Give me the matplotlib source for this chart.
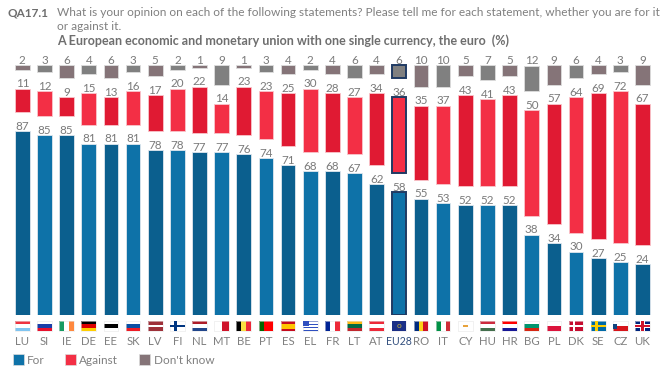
import matplotlib
matplotlib.use("Agg")
import matplotlib.pyplot as plt
from matplotlib.patches import Rectangle

plt.rcParams['font.family'] = ['Lato', 'DejaVu Sans']

countries = ["LU", "SI", "IE", "DE", "EE", "SK", "LV", "FI", "NL", "MT", "BE", "PT", "ES", "EL", "FR",
             "LT", "AT", "EU28", "RO", "IT", "CY", "HU", "HR", "BG", "PL", "DK", "SE", "CZ", "UK"]
for_vals = [87, 85, 85, 81, 81, 81, 78, 78, 77, 77, 76, 74, 71, 68, 68,
            67, 62, 58, 55, 53, 52, 52, 52, 38, 34, 30, 27, 25, 24]
against_vals = [11, 12, 9, 15, 13, 16, 17, 20, 22, 14, 23, 23, 25, 30, 28,
                27, 34, 36, 35, 37, 43, 41, 43, 50, 57, 64, 69, 72, 67]
dk_vals = [2, 3, 6, 4, 6, 3, 5, 2, 1, 9, 1, 3, 4, 2, 4,
           6, 4, 6, 10, 10, 5, 7, 5, 12, 9, 6, 4, 3, 9]

# flag stripes: direction, colours
flags = {
    "LU": ("h", ["#ef3340", "#ffffff", "#7fc4f0"]), "SI": ("h", ["#ffffff", "#1a3fa8", "#e8112d"]),
    "IE": ("v", ["#169b62", "#ffffff", "#ff883e"]), "DE": ("h", ["#000000", "#dd0000", "#ffce00"]),
    "EE": ("h", ["#ffffff", "#000000", "#ffffff"]), "SK": ("h", ["#ffffff", "#0b4ea2", "#ee1c25"]),
    "LV": ("h", ["#9e3039", "#9e3039", "#ffffff", "#9e3039", "#9e3039"]), "FI": ("h", ["#ffffff"]),
    "NL": ("h", ["#ae1c28", "#ffffff", "#21468b"]), "MT": ("v", ["#ffffff", "#cf142b"]),
    "BE": ("v", ["#000000", "#fae042", "#ed2939"]), "PT": ("v", ["#006600", "#ff0000", "#ff0000"]),
    "ES": ("h", ["#c60b1e", "#ffc400", "#ffc400", "#c60b1e"]),
    "EL": ("h", ["#2f4fc0", "#ffffff", "#2f4fc0", "#ffffff", "#2f4fc0", "#ffffff", "#2f4fc0"]),
    "FR": ("v", ["#002395", "#ffffff", "#ed2939"]), "LT": ("h", ["#fdb913", "#006a44", "#c1272d"]),
    "AT": ("h", ["#ed2939", "#ffffff", "#ed2939"]), "EU28": ("h", ["#003399"]),
    "RO": ("v", ["#002b7f", "#fcd116", "#ce1126"]), "IT": ("v", ["#009246", "#ffffff", "#ce2b37"]),
    "CY": ("h", ["#ffffff"]), "HU": ("h", ["#cd2a3e", "#ffffff", "#436f4d"]),
    "HR": ("h", ["#ff0000", "#ffffff", "#171796"]), "BG": ("h", ["#ffffff", "#00966e", "#d62612"]),
    "PL": ("h", ["#ffffff", "#dc143c"]), "DK": ("h", ["#c60c30"]), "SE": ("h", ["#006aa7"]),
    "CZ": ("h", ["#ffffff", "#d7141a"]), "UK": ("h", ["#00247d"]),
}
crosses = {"FI": "#003580", "DK": "#ffffff", "SE": "#fecc00", "UK": "#cf142b"}

W, H = 660, 376
base = 315.0
px_per_unit = 2.115
gap = 19 / px_per_unit
bar_w = 0.66
step = (642.5 - 22.3) / 28

fig = plt.figure(figsize=(W / 100, H / 100), dpi=100)
ax = fig.add_axes([0, (H - base) / H, 1, base / H])
ax.set_xlim(-22.3 / step, (W - 22.3) / step)
ax.set_ylim(0, base / px_per_unit)
for s in ax.spines.values():
    s.set_visible(False)
ax.set_yticks([])
ax.set_xticks(range(len(countries)))
ax.set_xticklabels(countries, fontsize=8.2, color="#808080")
ax.tick_params(axis="x", length=0, pad=15)
eu_label = ax.get_xticklabels()[countries.index("EU28")]
eu_label.set_color("#33507f")
eu_label.set_fontsize(7.6)

blues = ["#0b5f8e", "#0e72a8"]
reds = ["#e01a33", "#f32f45"]
greys = ["#857478", "#808080"]
txt = "#7a7a7a"
eu = countries.index("EU28")

for i in range(len(countries)):
    edge = "#1f3a63" if i == eu else "#dfe7ee"
    lw = 1.4 if i == eu else 0.6
    against_bottom = for_vals[i] + gap
    dk_bottom = against_bottom + against_vals[i] + gap
    ec_r = "#1f3a63" if i == eu else "#f9c5cb"
    ec_g = "#1f3a63" if i == eu else "#dddddd"
    ax.bar(i, for_vals[i], bar_w, color=blues[i % 2], edgecolor=edge, linewidth=lw)
    ax.bar(i, against_vals[i], bar_w, bottom=against_bottom, color=reds[i % 2], edgecolor=ec_r, linewidth=lw)
    ax.bar(i, dk_vals[i], bar_w, bottom=dk_bottom, color=greys[i % 2], edgecolor=ec_g, linewidth=lw)
    for top, v in [(for_vals[i], for_vals[i]), (against_bottom + against_vals[i], against_vals[i]),
                   (dk_bottom + dk_vals[i], dk_vals[i])]:
        ax.annotate(str(v), (i, top), xytext=(0, -0.5), textcoords="offset points", ha="center", va="bottom",
                    fontsize=8.4, color=txt, annotation_clip=False)

# flags, below the axis
tr = ax.get_xaxis_transform()
fl_top = -6 / base
fl_h = 10 / base


def flag_rect(x, y, w, h, c):
    ax.add_patch(Rectangle((x, y), w, h, facecolor=c, edgecolor="none", transform=tr, clip_on=False))


for i, c in enumerate(countries):
    x0 = i - bar_w / 2
    kind, cols = flags[c]
    n = len(cols)
    for j, col in enumerate(cols):
        if kind == "h":
            flag_rect(x0, fl_top - fl_h * (j + 1) / n, bar_w, fl_h / n, col)
        else:
            flag_rect(x0 + bar_w * j / n, fl_top - fl_h, bar_w / n, fl_h, col)
    ax.add_patch(Rectangle((x0, fl_top - fl_h), bar_w, fl_h, facecolor="none", edgecolor="#e6e6e6",
                           linewidth=0.4, transform=tr, clip_on=False))
    if c in crosses:
        col = crosses[c]
        if c == "UK":
            flag_rect(x0, fl_top - fl_h * 0.68, bar_w, fl_h * 0.36, "#ffffff")
            flag_rect(x0 + bar_w * 0.36, fl_top - fl_h, bar_w * 0.28, fl_h, "#ffffff")
            flag_rect(x0, fl_top - fl_h * 0.6, bar_w, fl_h * 0.2, col)
            flag_rect(x0 + bar_w * 0.42, fl_top - fl_h, bar_w * 0.16, fl_h, col)
        else:
            flag_rect(x0, fl_top - fl_h * 0.62, bar_w, fl_h * 0.24, col)
            flag_rect(x0 + bar_w * 0.3, fl_top - fl_h, bar_w * 0.16, fl_h, col)
    if c == "EU28":
        flag_rect(x0, fl_top - fl_h, bar_w, fl_h, "#1b2f86")
        ax.text(i, fl_top - fl_h / 2, "o", color="#c9b437", fontsize=6, ha="center", va="center",
                transform=tr, clip_on=False)
    if c == "CY":
        flag_rect(i - 0.12, fl_top - fl_h * 0.6, 0.24, fl_h * 0.25, "#e8a33c")
    if c == "CZ":
        flag_rect(x0, fl_top - fl_h * 0.75, bar_w * 0.25, fl_h * 0.5, "#11457e")
    if c == "EL":
        flag_rect(x0, fl_top - fl_h * 0.45, bar_w * 0.4, fl_h * 0.45, "#2f4fc0")


def put(x, y, s, **kw):
    fig.text(x / W, 1 - y / H, s, va="center", **kw)


put(8, 13, "QA17.1", fontsize=8.5, fontweight="bold", color="#6e6e6e")
put(57, 13, "What is your opinion on each of the following statements? Please tell me for each statement, whether you are for it",
    fontsize=8.6, color="#808080")
put(57, 27, "or against it.", fontsize=8.6, color="#808080")
put(57, 41, "A European economic and monetary union with one single currency, the euro  (%)",
    fontsize=9.0, fontweight="bold", color="#6e6e6e")

# legend
legend_items = [("For", 12.5, blues[1]), ("Against", 64.5, reds[1]), ("Don't know", 139, greys[0])]
for label, x, col in legend_items:
    fig.patches.append(Rectangle((x / W, 1 - 364.5 / H), 11 / W, 10.5 / H, transform=fig.transFigure,
                                 facecolor=col, edgecolor="#dddddd", linewidth=0.5))
    put(x + 14.5, 360, label, fontsize=8.5, color="#808080")

fig.savefig("out.png", dpi=100)
